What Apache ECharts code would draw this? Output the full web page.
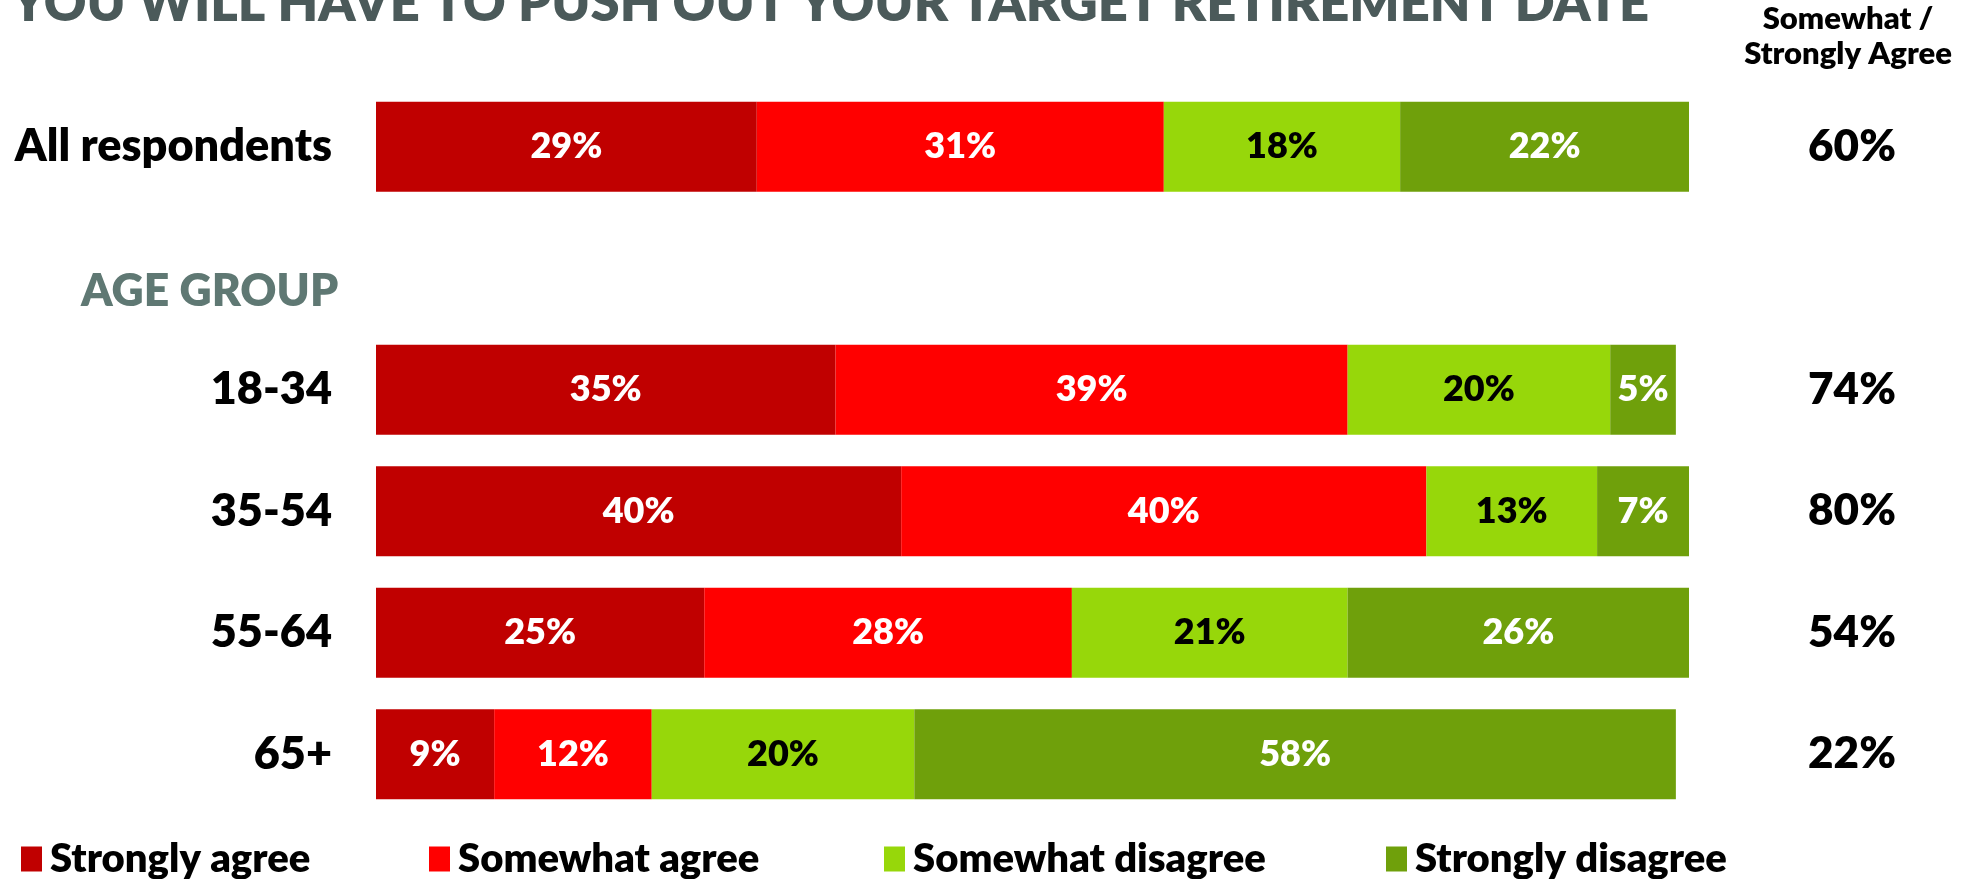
<!DOCTYPE html>
<html>
<head>
<meta charset="utf-8">
<script src="https://cdn.jsdelivr.net/npm/echarts@6/dist/echarts.min.js"></script>
<style>
  html, body { margin: 0; padding: 0; background: #fff; }
  #chart { width: 1982px; height: 879px; }
</style>
</head>
<body>
<div id="chart"></div>
<script>
// Survey answers by group, in percent
const groups = ['All respondents', '', '18-34', '35-54', '55-64', '65+'];
const stronglyAgree    = [29, null, 35, 40, 25, 9];
const somewhatAgree    = [31, null, 39, 40, 28, 12];
const somewhatDisagree = [18, null, 20, 13, 21, 20];
const stronglyDisagree = [22, null, 5, 7, 26, 58];
// Combined "Somewhat / Strongly Agree" share shown in the right column
const agreeTotal       = [60, null, 74, 80, 54, 22];

const seriesNames = ['Strongly agree', 'Somewhat agree', 'Somewhat disagree', 'Strongly disagree'];
const seriesColors = ['#C00000', '#FF0000', '#97D70A', '#6FA00B'];
const labelColors = ['#ffffff', '#ffffff', '#000000', '#ffffff'];
const seriesData = [stronglyAgree, somewhatAgree, somewhatDisagree, stronglyDisagree];

const FONT = 'Lato, "Open Sans", sans-serif';
const HEAVY = 800;
const legendLeft = [21, 429, 884, 1386];

const chart = echarts.init(document.getElementById('chart'), null, { renderer: 'canvas' });

chart.setOption({
  animation: false,
  backgroundColor: '#ffffff',
  grid: { left: 376, right: 293, top: 86, height: 729, containLabel: false },
  xAxis: {
    type: 'value', min: 0, max: 100, show: false
  },
  yAxis: [
    {
      type: 'category', data: groups, inverse: true, position: 'left',
      axisLine: { show: false }, axisTick: { show: false },
      axisLabel: {
        margin: 44, color: '#000', fontFamily: FONT, fontWeight: HEAVY, fontSize: 45
      }
    },
    {
      type: 'category', data: groups, inverse: true, position: 'right',
      axisLine: { show: false }, axisTick: { show: false },
      axisLabel: {
        margin: 163, align: 'center', color: '#000', fontFamily: FONT, fontWeight: HEAVY, fontSize: 44,
        formatter: (v, i) => agreeTotal[i] == null ? '' : agreeTotal[i] + '%'
      }
    }
  ],
  legend: seriesNames.map((name, i) => ({
    data: [name],
    left: legendLeft[i], top: 839, padding: 0,
    icon: 'rect', itemWidth: 21, itemHeight: 25,
    selectedMode: false,
    textStyle: { color: '#000', fontFamily: FONT, fontWeight: HEAVY, fontSize: 40, padding: [0, 0, 0, 3] }
  })),
  series: seriesNames.map((name, i) => ({
    name, type: 'bar', stack: 'total', yAxisIndex: 0,
    barWidth: 90,
    itemStyle: { color: seriesColors[i] },
    label: {
      show: true, position: 'inside',
      color: labelColors[i], fontFamily: FONT, fontWeight: HEAVY, fontSize: 36,
      formatter: p => p.value == null ? '' : p.value + '%'
    },
    data: seriesData[i]
  })),
  graphic: [
    {
      type: 'text', x: 830, y: 4,
      style: {
        text: 'YOU WILL HAVE TO PUSH OUT YOUR TARGET RETIREMENT DATE',
        align: 'center', verticalAlign: 'middle',
        fill: '#4B5A5A', fontFamily: FONT, fontWeight: HEAVY, fontSize: 52.5
      }
    },
    {
      type: 'text', x: 1848, y: 36,
      style: {
        text: 'Somewhat /\nStrongly Agree',
        align: 'center', verticalAlign: 'middle', lineHeight: 35,
        fill: '#000', fontFamily: FONT, fontWeight: HEAVY, fontSize: 31
      }
    },
    {
      type: 'text', x: 81, y: 292,
      style: {
        text: 'AGE GROUP',
        align: 'left', verticalAlign: 'middle',
        fill: '#5F7873', fontFamily: FONT, fontWeight: HEAVY, fontSize: 44.5
      }
    }
  ]
});
</script>
</body>
</html>
